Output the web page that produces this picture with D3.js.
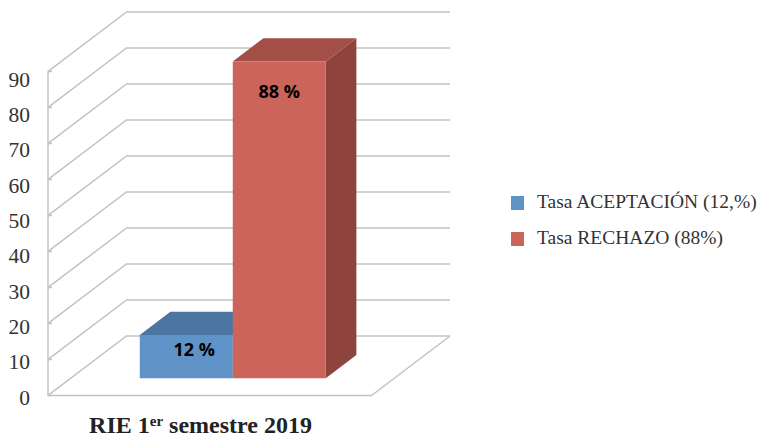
<!DOCTYPE html>
<html lang="es">
<head>
<meta charset="UTF-8">
<title>RIE 1er semestre 2019</title>
<style>
  html, body { margin: 0; padding: 0; background: #fff; }
  svg { display: block; }
  text { font-family: "Liberation Serif", serif; }
</style>
</head>
<body>
<div id="stage"></div>
<script src="https://d3js.org/d3.v7.min.js"></script>
<script>
// data
const seriesNames = ["Tasa ACEPTACIÓN (12,%)", "Tasa RECHAZO (88%)"];
const seriesValues = [12, 88];
const barLabels = ["12 %", "88 %"];
const yTicks = [0, 10, 20, 30, 40, 50, 60, 70, 80, 90];
const frontColors = ["#5f93c8", "#cb645b"];
const topColors = ["#4a76a1", "#a34f48"];
const sideColors = ["#44698f", "#8e443c"];

const width = 759, height = 439;
const svg = d3.select("#stage").append("svg").attr("width", width).attr("height", height);

// front plane of the chart box, depth goes up and right
const y = d3.scaleLinear().domain([0, 90]).range([395.5, 71.5]);
const depthX = d3.scaleLinear().domain([0, 1]).range([0, 78.5]);
const depthY = d3.scaleLinear().domain([0, 1]).range([0, -59.5]);
const x0 = 48, x1 = 371.5;

// bars sit between these two depths
const barFront = 0.29, barBack = 0.68;
const xBar = d3.scaleBand().domain(d3.range(seriesValues.length)).range([117, 303]);

function pt(px, v, d) { return [px + depthX(d), y(v) + depthY(d)]; }
const line = d3.line();

const grey = "#c3c3c3";
const grid = svg.append("g").attr("fill", "none").attr("stroke", grey).attr("stroke-width", 1.5);

// walls: small tick, diagonal on the side wall, then along the back wall
grid.selectAll("path.wall").data(yTicks).join("path")
  .attr("class", "wall")
  .attr("d", v => line([[x0, y(v)], [x0 + 4, y(v)], pt(x0, v, 0.01), pt(x0, v, 1), pt(x1, v, 1)]));
grid.append("path").attr("d", line([[x0, y(0)], [x0, y(90)]]));
// floor
grid.append("path").attr("d", line([[x0, y(0)], [x1, y(0)], pt(x1, 0, 1)]));

// bars
const bars = svg.append("g").selectAll("g").data(seriesValues).join("g");
bars.append("path").attr("fill", (d, i) => sideColors[i])
  .attr("d", (d, i) => {
    const r = xBar(i) + xBar.bandwidth();
    return line([pt(r, 0, barFront), pt(r, 0, barBack), pt(r, d, barBack), pt(r, d, barFront)]) + "Z";
  });
bars.append("path").attr("fill", (d, i) => topColors[i])
  .attr("d", (d, i) => {
    const l = xBar(i), r = l + xBar.bandwidth();
    return line([pt(l, d, barFront), pt(l, d, barBack), pt(r, d, barBack), pt(r, d, barFront)]) + "Z";
  });
bars.append("path").attr("fill", (d, i) => frontColors[i])
  .attr("d", (d, i) => {
    const l = xBar(i), r = l + xBar.bandwidth();
    return line([pt(l, 0, barFront), pt(l, d, barFront), pt(r, d, barFront), pt(r, 0, barFront)]) + "Z";
  });

// value labels, just under the top of each bar
bars.append("text")
  .attr("x", (d, i) => pt(xBar(i) + xBar.bandwidth() / 2, d, barFront)[0] + (i === 0 ? 8 : 0))
  .attr("y", (d, i) => pt(0, d, barFront)[1] + (i === 0 ? 20.5 : 36.5))
  .attr("text-anchor", "middle")
  .style("font-family", '"Open Sans", sans-serif')
  .style("font-weight", 700)
  .style("font-size", "18px")
  .attr("fill", "#000")
  .text((d, i) => barLabels[i]);

// y labels: in the picture they are spaced a bit tighter than the ticks
const yLabel = d3.scaleLinear().domain([0, 90]).range([404, 86]);
const axis = d3.axisLeft(yLabel).tickValues(yTicks).tickSize(0).tickPadding(0);
const axisG = svg.append("g").attr("transform", "translate(30,0)").call(axis);
axisG.select(".domain").remove();
axisG.selectAll("text")
  .attr("dy", 0)
  .style("font-family", '"Liberation Serif", serif')
  .style("font-size", "21.5px")
  .attr("fill", "#333");

// x category title
const title = svg.append("text")
  .attr("x", 200.5).attr("y", 433)
  .attr("text-anchor", "middle")
  .attr("fill", "#222")
  .style("font-weight", 700)
  .style("font-size", "24px");
title.append("tspan").text("RIE 1");
title.append("tspan").attr("dy", -7).style("font-size", "15px").text("er");
title.append("tspan").attr("dy", 7).text(" semestre 2019");

// legend
const legend = svg.append("g").selectAll("g").data(seriesNames).join("g")
  .attr("transform", (d, i) => `translate(511,${196 + i * 36})`);
legend.append("rect").attr("width", 13).attr("height", 14).attr("fill", (d, i) => frontColors[i]);
legend.append("text")
  .attr("x", 26).attr("y", 12)
  .attr("fill", "#333")
  .style("font-size", "19.5px")
  .text(d => d);
</script>
</body>
</html>
